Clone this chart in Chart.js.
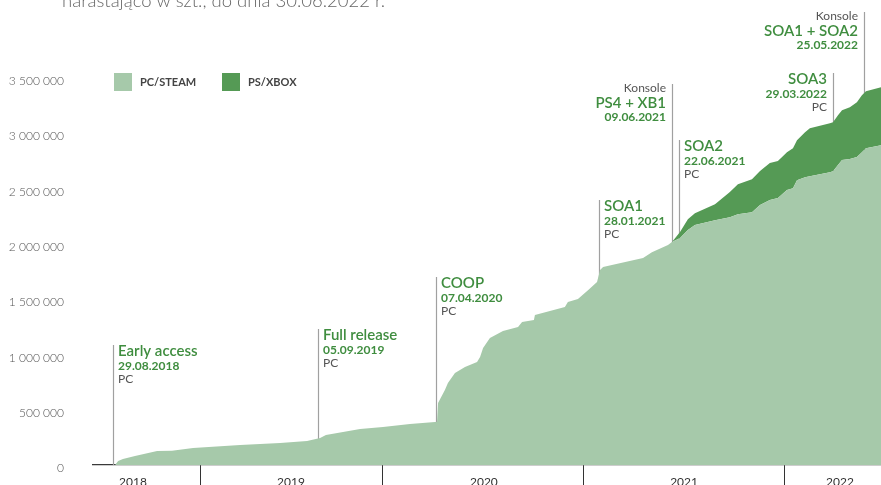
<!DOCTYPE html>
<html lang="pl">
<head>
<meta charset="utf-8">
<title>Sprzedaż narastająco</title>
<script src="https://cdn.jsdelivr.net/npm/chart.js@4.4.1/dist/chart.umd.min.js"></script>
<style>
  html, body { margin: 0; padding: 0; background: #fff; }
  #wrap { position: relative; width: 881px; height: 485px; }
</style>
</head>
<body>
<div id="wrap"><canvas id="salesChart"></canvas></div>
<script>
// x = data jako ułamek roku
const dates = [
  2018.667, 2018.682, 2018.706, 2018.766, 2018.876, 2018.950, 2019.055, 2019.289, 2019.488, 2019.622,
  2019.687, 2019.716, 2019.886, 2020.000, 2020.134, 2020.259, 2020.269, 2020.274, 2020.308, 2020.323,
  2020.358, 2020.408, 2020.468, 2020.483, 2020.498, 2020.532, 2020.597, 2020.672, 2020.692, 2020.751,
  2020.756, 2020.905, 2020.920, 2020.970, 2021.020, 2021.065, 2021.080, 2021.095, 2021.139, 2021.294,
  2021.338, 2021.418, 2021.438, 2021.478, 2021.517, 2021.552, 2021.652, 2021.726, 2021.766, 2021.836,
  2021.876, 2021.925, 2021.965, 2022.010, 2022.040, 2022.060, 2022.100, 2022.124, 2022.224, 2022.239,
  2022.264, 2022.284, 2022.323, 2022.358, 2022.383, 2022.403, 2022.478, 2022.493
];
const pcSteam = [
  0, 36000, 54000, 81000, 126000, 128000, 153000, 180000, 199000, 217000,
  244000, 271000, 325000, 343000, 370000, 388000, 390000, 560000, 677000, 740000,
  830000, 884000, 930000, 975000, 1056000, 1146000, 1209000, 1245000, 1291000, 1309000,
  1354000, 1426000, 1471000, 1498000, 1579000, 1652000, 1760000, 1787000, 1805000, 1868000,
  1922000, 1986000, 2013000, 2049000, 2121000, 2166000, 2211000, 2238000, 2265000, 2283000,
  2347000, 2392000, 2410000, 2482000, 2500000, 2572000, 2599000, 2608000, 2644000, 2653000,
  2708000, 2753000, 2762000, 2780000, 2825000, 2861000, 2888000, 2897000
];
const psXbox = [
  0, 0, 0, 0, 0, 0, 0, 0, 0, 0,
  0, 0, 0, 0, 0, 0, 0, 0, 0, 0,
  0, 0, 0, 0, 0, 0, 0, 0, 0, 0,
  0, 0, 0, 0, 0, 0, 0, 0, 0, 0,
  0, 0, 0, 54000, 99000, 108000, 144000, 226000, 271000, 298000,
  307000, 334000, 334000, 343000, 361000, 361000, 406000, 433000, 442000, 442000,
  451000, 451000, 469000, 496000, 514000, 514000, 523000, 523000
];
const seriesNames = ['PC/STEAM', 'PS/XBOX'];
const yTicks = [0, 500000, 1000000, 1500000, 2000000, 2500000, 3000000, 3500000];
const yearLabels = ['2018', '2019', '2020', '2021', '2022'];
const yearLabelPos = [2018.756, 2019.542, 2020.502, 2021.498, 2022.274];
const yearBorders = [2019.09, 2020, 2021, 2022];
const subtitle = 'narastająco w szt., do dnia 30.06.2022 r.';

const milestones = [
  { date: '29.08.2018', title: 'Early access', sub: 'PC' },
  { date: '05.09.2019', title: 'Full release', sub: 'PC' },
  { date: '07.04.2020', title: 'COOP', sub: 'PC' },
  { date: '28.01.2021', title: 'SOA1', sub: 'PC' },
  { date: '09.06.2021', pre: 'Konsole', title: 'PS4 + XB1' },
  { date: '22.06.2021', title: 'SOA2', sub: 'PC' },
  { date: '29.03.2022', title: 'SOA3', sub: 'PC' },
  { date: '25.05.2022', pre: 'Konsole', title: 'SOA1 + SOA2' }
];
// położenie opisów: górny koniec kreski (px) i strona tekstu
const milestoneLayout = [
  { top: 345, side: 'right' },
  { top: 329, side: 'right' },
  { top: 277, side: 'right' },
  { top: 200, side: 'right' },
  { top: 84, side: 'left' },
  { top: 140, side: 'right' },
  { top: 73, side: 'left' },
  { top: 12, side: 'left' }
];

const FONT = 'Lato, "Open Sans", sans-serif';
const GREEN_TXT = '#3f8d3f';
const GREY_TXT = '#555';

function toYear(s) {
  const [d, m, yr] = s.split('.').map(Number);
  const start = Date.UTC(yr, 0, 1);
  return yr + (Date.UTC(yr, m - 1, d) - start) / (Date.UTC(yr + 1, 0, 1) - start);
}

function formatPl(v) {
  return String(v).replace(/\B(?=(\d{3})+(?!\d))/g, ' ');
}

const milestonePlugin = {
  id: 'milestones',
  beforeDatasetsDraw(chart) {
    const { ctx, scales: { x, y } } = chart;
    ctx.save();
    ctx.strokeStyle = '#a0a0a0';
    ctx.lineWidth = 1.2;
    milestones.forEach((m, i) => {
      const px = Math.round(x.getPixelForValue(toYear(m.date))) + 0.5;
      ctx.beginPath();
      ctx.moveTo(px, milestoneLayout[i].top);
      ctx.lineTo(px, y.getPixelForValue(0));
      ctx.stroke();
    });
    ctx.restore();
  },
  afterDatasetsDraw(chart) {
    const { ctx, scales: { x } } = chart;
    ctx.save();
    ctx.textBaseline = 'middle';
    milestones.forEach((m, i) => {
      const lay = milestoneLayout[i];
      const px = Math.round(x.getPixelForValue(toYear(m.date)));
      const tx = lay.side === 'right' ? px + 5 : px - 6;
      ctx.textAlign = lay.side === 'right' ? 'left' : 'right';
      let rows;
      if (m.pre) {
        rows = [
          [m.pre, '400 12px ' + FONT, GREY_TXT, 4],
          [m.title, '600 15px ' + FONT, GREEN_TXT, 19],
          [m.date, '700 12px ' + FONT, GREEN_TXT, 33]
        ];
      } else {
        rows = [
          [m.title, '600 15px ' + FONT, GREEN_TXT, 6],
          [m.date, '700 12px ' + FONT, GREEN_TXT, 21],
          [m.sub, '400 12px ' + FONT, GREY_TXT, 34]
        ];
      }
      rows.forEach(([t, f, c, dy]) => {
        ctx.font = f;
        ctx.fillStyle = c;
        ctx.fillText(t, tx, lay.top + dy);
      });
    });
    ctx.restore();
  }
};

const legendPlugin = {
  id: 'boxLegend',
  afterDraw(chart) {
    const { ctx } = chart;
    const starts = [114, 222];
    ctx.save();
    ctx.textBaseline = 'middle';
    ctx.textAlign = 'left';
    ctx.font = '700 11px ' + FONT;
    chart.data.datasets.forEach((ds, i) => {
      ctx.fillStyle = ds.backgroundColor;
      ctx.fillRect(starts[i], 73, 18, 18);
      ctx.fillStyle = '#444';
      ctx.fillText(ds.label, starts[i] + 26, 82);
    });
    // ucięty podtytuł u góry
    ctx.font = '300 18.5px ' + FONT;
    ctx.fillStyle = '#666';
    ctx.textBaseline = 'alphabetic';
    ctx.fillText(subtitle, 62, 7);
    ctx.restore();
  }
};

new Chart(document.getElementById('salesChart'), {
  type: 'line',
  data: {
    datasets: [
      {
        label: seriesNames[0],
        data: dates.map((d, i) => ({ x: d, y: pcSteam[i] })),
        backgroundColor: '#a6c9aa',
        borderColor: 'rgba(0,0,0,0)',
        borderWidth: 0,
        fill: 'origin'
      },
      {
        label: seriesNames[1],
        data: dates.map((d, i) => ({ x: d, y: psXbox[i] })),
        backgroundColor: '#559a55',
        borderColor: 'rgba(0,0,0,0)',
        borderWidth: 0,
        fill: '-1'
      }
    ]
  },
  options: {
    responsive: true,
    maintainAspectRatio: false,
    animation: false,
    layout: { padding: { top: 22, left: 0, right: 0, bottom: 0 } },
    elements: { point: { radius: 0 }, line: { tension: 0 } },
    plugins: { legend: { display: false }, tooltip: { enabled: false } },
    scales: {
      x: {
        type: 'linear',
        min: 2018.557,
        max: 2022.478,
        afterBuildTicks: s => {
          s.ticks = [...yearBorders, ...yearLabelPos].sort((a, b) => a - b).map(v => ({ value: v }));
        },
        afterFit: s => { s.height = 20; s.paddingLeft = 0; s.paddingRight = 0; },
        grid: {
          drawOnChartArea: false,
          drawTicks: true,
          tickLength: 20,
          lineWidth: 1,
          color: c => (c.tick && yearBorders.includes(c.tick.value)) ? '#333' : 'rgba(0,0,0,0)'
        },
        border: { display: true, color: '#3a3a3a', width: 1.2 },
        ticks: {
          autoSkip: false,
          maxRotation: 0,
          padding: -10,
          color: '#333',
          font: { family: FONT, size: 12 },
          callback: v => {
            const i = yearLabelPos.indexOf(v);
            return i >= 0 ? yearLabels[i] : '';
          }
        }
      },
      y: {
        stacked: true,
        min: 0,
        max: 4000000,
        afterBuildTicks: s => { s.ticks = yTicks.map(v => ({ value: v })); },
        afterFit: s => { s.width = 93; s.paddingTop = 0; s.paddingBottom = 0; },
        grid: { display: false, drawTicks: false },
        border: { display: false },
        ticks: {
          padding: 29,
          labelOffset: 3.5,
          color: '#555',
          font: { family: FONT, size: 12, weight: '300' },
          callback: v => formatPl(v)
        }
      }
    }
  },
  plugins: [milestonePlugin, legendPlugin]
});
</script>
</body>
</html>
